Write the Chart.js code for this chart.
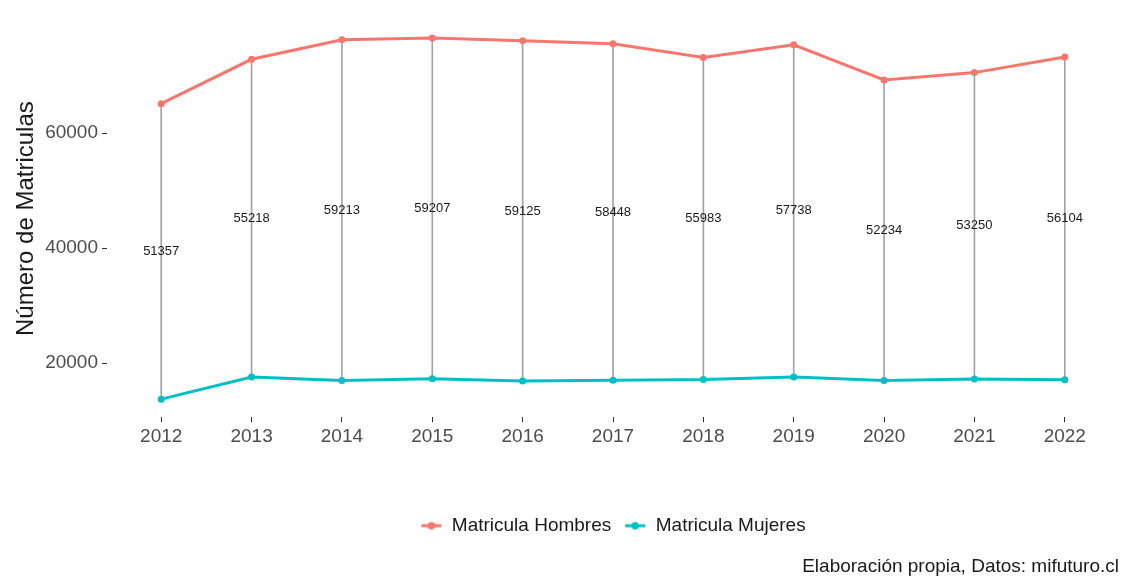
<!DOCTYPE html>
<html><head><meta charset="utf-8">
<script src="https://cdn.jsdelivr.net/npm/chart.js@4.4.1/dist/chart.umd.min.js"></script>
<style>html,body{margin:0;padding:0;background:#fff}#wrap{width:1123px;height:578px}</style>
</head><body><div id="wrap"><canvas id="c" width="1123" height="578"></canvas></div>
<script>
const years = [2012, 2013, 2014, 2015, 2016, 2017, 2018, 2019, 2020, 2021, 2022];
const hombres = [65107, 72818, 76213, 76507, 76025, 75498, 73133, 75338, 69234, 70500, 73204];
const mujeres = [13750, 17600, 17000, 17300, 16900, 17050, 17150, 17600, 17000, 17250, 17100];
const seriesNames = ['Matricula Hombres', 'Matricula Mujeres'];
const seriesColors = ['#F8766D', '#00BFC4'];
const yTicks = [20000, 40000, 60000];
const yTitle = 'Número de Matriculas';
const caption = 'Elaboración propia, Datos: mifuturo.cl';

const FONT = '"Liberation Sans", Arial, sans-serif';

function keyImage(color) {
  const c = document.createElement('canvas');
  c.width = 22; c.height = 12;
  const g = c.getContext('2d');
  g.strokeStyle = color; g.lineWidth = 3;
  g.beginPath(); g.moveTo(1, 6); g.lineTo(21, 6); g.stroke();
  g.fillStyle = color;
  g.beginPath(); g.arc(11, 6, 3.8, 0, Math.PI * 2); g.fill();
  return c;
}
const keys = seriesColors.map(keyImage);

const diffLabels = {
  id: 'diffLabels',
  afterDatasetsDraw(chart) {
    const { ctx, scales: { x, y } } = chart;
    ctx.save();
    ctx.font = '13px ' + FONT;
    ctx.fillStyle = '#1a1a1a';
    ctx.textAlign = 'center';
    ctx.textBaseline = 'middle';
    years.forEach((yr, i) => {
      const d = hombres[i] - mujeres[i];
      ctx.fillText(String(d), x.getPixelForValue(yr), y.getPixelForValue((hombres[i] + mujeres[i]) / 2));
    });
    ctx.restore();
  }
};

const yMin = 10612, yMax = 79645;

new Chart(document.getElementById('c'), {
  data: {
    datasets: [
      {
        type: 'bar',
        label: 'seg',
        data: years.map((yr, i) => ({ x: yr, y: [mujeres[i], hombres[i]] })),
        backgroundColor: '#a3a3a3',
        barThickness: 1,
        order: 5
      },
      {
        type: 'line',
        label: seriesNames[0],
        data: years.map((yr, i) => ({ x: yr, y: hombres[i] })),
        borderColor: seriesColors[0],
        backgroundColor: seriesColors[0],
        borderWidth: 3,
        pointRadius: 3.5,
        pointBorderWidth: 0,
        tension: 0,
        order: 2
      },
      {
        type: 'line',
        label: seriesNames[1],
        data: years.map((yr, i) => ({ x: yr, y: mujeres[i] })),
        borderColor: seriesColors[1],
        backgroundColor: seriesColors[1],
        borderWidth: 3,
        pointRadius: 3.5,
        pointBorderWidth: 0,
        tension: 0,
        order: 1
      }
    ]
  },
  options: {
    responsive: false,
    devicePixelRatio: 1,
    animation: false,
    layout: { padding: { top: 20, right: 4, bottom: 0, left: 0 } },
    plugins: {
      tooltip: { enabled: false },
      legend: {
        position: 'bottom',
        fullSize: false,
        labels: {
          usePointStyle: true,
          pointStyleWidth: 22,
          padding: 13,
          color: '#1a1a1a',
          font: { family: FONT, size: 19 },
          generateLabels(chart) {
            return seriesNames.map((n, i) => ({
              text: n,
              pointStyle: keys[i],
              fillStyle: seriesColors[i],
              strokeStyle: seriesColors[i],
              lineWidth: 0,
              hidden: false,
              datasetIndex: i + 1,
              fontColor: '#1a1a1a'
            }));
          }
        }
      },
      subtitle: {
        display: true,
        position: 'bottom',
        align: 'end',
        text: caption,
        color: '#1a1a1a',
        font: { family: FONT, size: 19, weight: 'normal' },
        padding: { top: 10, bottom: 0 }
      }
    },
    scales: {
      x: {
        type: 'linear',
        offset: false,
        min: 2011.4,
        max: 2022.6,
        afterBuildTicks(s) { s.ticks = years.map(v => ({ value: v })); },
        afterFit(s) { s.height = 86; },
        ticks: {
          callback: v => String(v),
          color: '#4d4d4d',
          font: { family: FONT, size: 19 },
          padding: 3,
          maxRotation: 0,
          autoSkip: false
        },
        grid: { offset: false, drawOnChartArea: false, drawTicks: true, tickLength: 5, tickColor: '#333333', tickWidth: 1 },
        border: { display: false }
      },
      y: {
        type: 'linear',
        min: yMin,
        max: yMax,
        afterBuildTicks(s) { s.ticks = yTicks.map(v => ({ value: v })); },
        afterFit(s) { s.width = 107; },
        ticks: {
          callback: v => String(v),
          color: '#4d4d4d',
          font: { family: FONT, size: 19 },
          padding: 4
        },
        grid: { drawOnChartArea: false, drawTicks: true, tickLength: 5, tickColor: '#333333', tickWidth: 1 },
        border: { display: false },
        title: {
          display: true,
          text: yTitle,
          color: '#1a1a1a',
          font: { family: FONT, size: 24 },
          padding: { top: 12, bottom: 0 }
        }
      }
    }
  },
  plugins: [diffLabels]
});
</script>
</body></html>
